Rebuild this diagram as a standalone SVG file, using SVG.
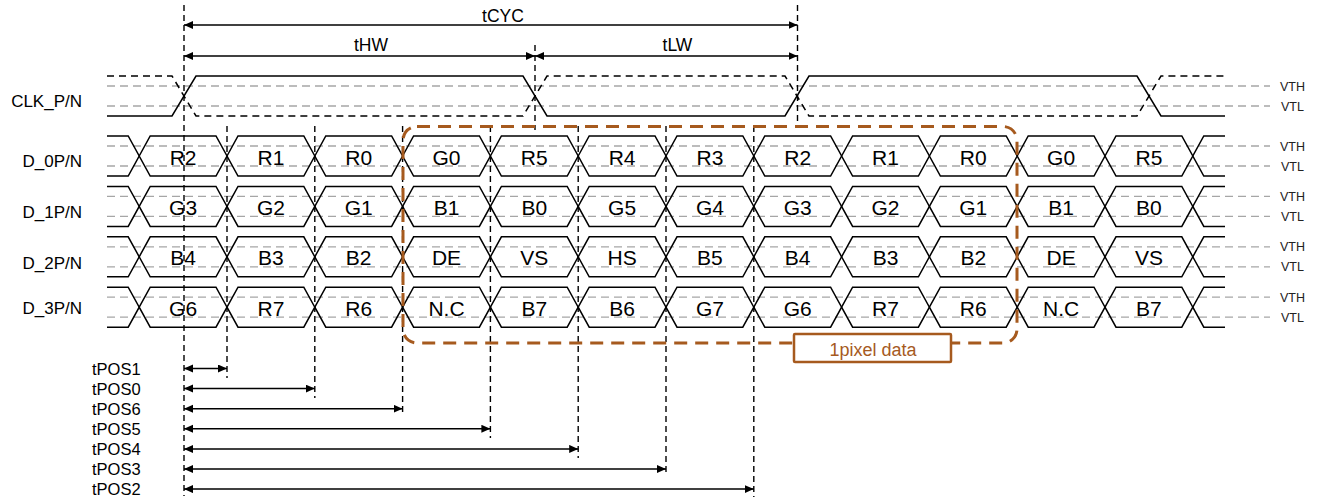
<svg xmlns="http://www.w3.org/2000/svg" xmlns:xlink="http://www.w3.org/1999/xlink" width="1322" height="499" viewBox="0 0 1322 499">
<style>
text{font-family:"Liberation Sans",Arial,sans-serif;fill:#000}
.sig{fill:none;stroke:#000;stroke-width:1.5}
.cmp{fill:none;stroke:#000;stroke-width:1.5;stroke-dasharray:7 5}
.ref{fill:none;stroke:#A6A6A6;stroke-width:1.3;stroke-dasharray:8 5}
.vd{fill:none;stroke:#000;stroke-width:1.4;stroke-dasharray:6 4}
.arr{fill:none;stroke:#000;stroke-width:1.5;marker-start:url(#ah);marker-end:url(#ah)}
.rl{font-size:17px;text-anchor:end}
.dl{font-size:21px;text-anchor:middle}
.vl{font-size:12.5px;fill:#222}
.tl{font-size:17.5px;text-anchor:middle}
.pl{font-size:16.5px}
.grp{fill:none;stroke:#A65A1E;stroke-width:3;stroke-dasharray:13 8}
</style>
<defs>
<marker id="ah" markerUnits="userSpaceOnUse" markerWidth="10" markerHeight="10" refX="9" refY="4" orient="auto-start-reverse"><path d="M0,0 L9,4 L0,8 Z" fill="#000"/></marker>
<path id="cell" class="sig" d="M0,20 L11,0 L76.8,0 L87.8,20 L76.8,40 L11,40 Z"/>
<path id="st" class="sig" d="M107,0 H128.2 L139.2,20 L128.2,40 H107"/>
<path id="en" class="sig" d="M1225,0 H1203.8 L1192.8,20 L1203.8,40 H1225"/>
<g id="refs"><line class="ref" x1="107" y1="10" x2="1270" y2="10"/><line class="ref" x1="107" y1="30" x2="1270" y2="30"/><text class="vl" x="1280" y="14.5">VTH</text><text class="vl" x="1281" y="34.5">VTL</text></g>
<g id="cells"><use xlink:href="#st"/><use xlink:href="#en"/><use xlink:href="#cell" x="139.2"/><use xlink:href="#cell" x="227"/><use xlink:href="#cell" x="314.8"/><use xlink:href="#cell" x="402.6"/><use xlink:href="#cell" x="490.4"/><use xlink:href="#cell" x="578.2"/><use xlink:href="#cell" x="666"/><use xlink:href="#cell" x="753.8"/><use xlink:href="#cell" x="841.6"/><use xlink:href="#cell" x="929.4"/><use xlink:href="#cell" x="1017.2"/><use xlink:href="#cell" x="1105"/></g>
</defs>
<rect width="1322" height="499" fill="#fff"/>

<g id="clk">
<use xlink:href="#refs" y="76"/>
<path class="sig" d="M107,116 H172 L196,76 H523 L547,116 H785 L809,76 H1137 L1161,116 H1225"/>
<path class="cmp" d="M107,76 H172 L196,116 H523 L547,76 H785 L809,116 H1137 L1161,76 H1225"/>
<text class="rl" x="82" y="107">CLK_P/N</text>
</g>

<g id="d0" transform="translate(0,136)">
<use xlink:href="#refs"/><use xlink:href="#cells"/>
<text class="rl" x="82" y="31">D_0P/N</text>
<text class="dl" x="183.1" y="28.5">R2</text><text class="dl" x="270.9" y="28.5">R1</text><text class="dl" x="358.7" y="28.5">R0</text><text class="dl" x="446.5" y="28.5">G0</text><text class="dl" x="534.3" y="28.5">R5</text><text class="dl" x="622.1" y="28.5">R4</text><text class="dl" x="709.9" y="28.5">R3</text><text class="dl" x="797.7" y="28.5">R2</text><text class="dl" x="885.5" y="28.5">R1</text><text class="dl" x="973.3" y="28.5">R0</text><text class="dl" x="1061.1" y="28.5">G0</text><text class="dl" x="1148.9" y="28.5">R5</text>
</g>

<g id="d1" transform="translate(0,186.4)">
<use xlink:href="#refs"/><use xlink:href="#cells"/>
<text class="rl" x="82" y="32">D_1P/N</text>
<text class="dl" x="183.1" y="28.5">G3</text><text class="dl" x="270.9" y="28.5">G2</text><text class="dl" x="358.7" y="28.5">G1</text><text class="dl" x="446.5" y="28.5">B1</text><text class="dl" x="534.3" y="28.5">B0</text><text class="dl" x="622.1" y="28.5">G5</text><text class="dl" x="709.9" y="28.5">G4</text><text class="dl" x="797.7" y="28.5">G3</text><text class="dl" x="885.5" y="28.5">G2</text><text class="dl" x="973.3" y="28.5">G1</text><text class="dl" x="1061.1" y="28.5">B1</text><text class="dl" x="1148.9" y="28.5">B0</text>
</g>

<g id="d2" transform="translate(0,236.8)">
<use xlink:href="#refs"/><use xlink:href="#cells"/>
<text class="rl" x="82" y="32">D_2P/N</text>
<text class="dl" x="183.1" y="28.5">B4</text><text class="dl" x="270.9" y="28.5">B3</text><text class="dl" x="358.7" y="28.5">B2</text><text class="dl" x="446.5" y="28.5">DE</text><text class="dl" x="534.3" y="28.5">VS</text><text class="dl" x="622.1" y="28.5">HS</text><text class="dl" x="709.9" y="28.5">B5</text><text class="dl" x="797.7" y="28.5">B4</text><text class="dl" x="885.5" y="28.5">B3</text><text class="dl" x="973.3" y="28.5">B2</text><text class="dl" x="1061.1" y="28.5">DE</text><text class="dl" x="1148.9" y="28.5">VS</text>
</g>

<g id="d3" transform="translate(0,287.2)">
<use xlink:href="#refs"/><use xlink:href="#cells"/>
<text class="rl" x="82" y="26.5">D_3P/N</text>
<text class="dl" x="183.1" y="28.5">G6</text><text class="dl" x="270.9" y="28.5">R7</text><text class="dl" x="358.7" y="28.5">R6</text><text class="dl" x="446.5" y="28.5">N.C</text><text class="dl" x="534.3" y="28.5">B7</text><text class="dl" x="622.1" y="28.5">B6</text><text class="dl" x="709.9" y="28.5">G7</text><text class="dl" x="797.7" y="28.5">G6</text><text class="dl" x="885.5" y="28.5">R7</text><text class="dl" x="973.3" y="28.5">R6</text><text class="dl" x="1061.1" y="28.5">N.C</text><text class="dl" x="1148.9" y="28.5">B7</text>
</g>

<g id="guides">
<line class="vd" x1="184" y1="5" x2="184" y2="496"/>
<line class="vd" x1="797.5" y1="5" x2="797.5" y2="128"/>
<line class="vd" x1="535" y1="45" x2="535" y2="130"/>
<line class="vd" x1="227" y1="126" x2="227" y2="378"/>
<line class="vd" x1="314.8" y1="126" x2="314.8" y2="398"/>
<line class="vd" x1="402.6" y1="126" x2="402.6" y2="416"/>
<line class="vd" x1="490.4" y1="126" x2="490.4" y2="438"/>
<line class="vd" x1="578.2" y1="126" x2="578.2" y2="458"/>
<line class="vd" x1="666" y1="126" x2="666" y2="476"/>
<line class="vd" x1="753.8" y1="126" x2="753.8" y2="497"/>
</g>

<g id="pixel-group">
<rect class="grp" x="403" y="126.5" width="614" height="216.5" rx="14"/>
<rect x="794" y="334" width="157" height="28" rx="1" fill="#fff" stroke="#A65A1E" stroke-width="2.5"/>
<text x="873" y="356" font-size="18" text-anchor="middle" style="fill:#A65A1E">1pixel data</text>
</g>

<g id="connectors">
<line class="arr" x1="184" y1="25" x2="797.5" y2="25"/>
<line class="arr" x1="184" y1="56" x2="535" y2="56"/>
<line class="arr" x1="535" y1="56" x2="797.5" y2="56"/>
<line class="arr" x1="184" y1="368.5" x2="227" y2="368.5"/>
<line class="arr" x1="184" y1="388.6" x2="314.8" y2="388.6"/>
<line class="arr" x1="184" y1="408.7" x2="402.6" y2="408.7"/>
<line class="arr" x1="184" y1="428.8" x2="490.4" y2="428.8"/>
<line class="arr" x1="184" y1="448.9" x2="578.2" y2="448.9"/>
<line class="arr" x1="184" y1="469" x2="666" y2="469"/>
<line class="arr" x1="184" y1="489.1" x2="753.8" y2="489.1"/>
</g>

<g id="timing-labels">
<text class="tl" x="503" y="22">tCYC</text>
<text class="tl" x="371" y="51">tHW</text>
<text class="tl" x="677.5" y="51">tLW</text>
<text class="pl" x="92" y="374.5">tPOS1</text>
<text class="pl" x="92" y="394.6">tPOS0</text>
<text class="pl" x="92" y="414.7">tPOS6</text>
<text class="pl" x="92" y="434.8">tPOS5</text>
<text class="pl" x="92" y="454.9">tPOS4</text>
<text class="pl" x="92" y="475">tPOS3</text>
<text class="pl" x="92" y="495.1">tPOS2</text>
</g>
</svg>
